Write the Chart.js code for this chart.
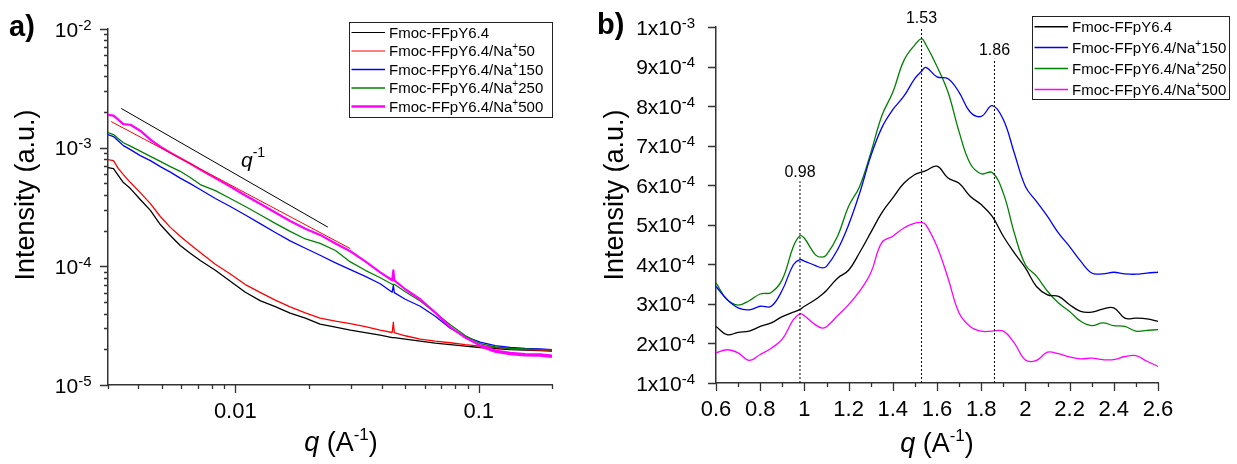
<!DOCTYPE html>
<html>
<head>
<meta charset="utf-8">
<title>Fmoc-FFpY6.4 scattering profiles</title>
<script src="https://cdn.jsdelivr.net/npm/chart.js@4.4.1/dist/chart.umd.min.js"></script>
<style>
  body { margin: 0; background: #fff; }
  #wrap { position: relative; width: 1237px; height: 464px; overflow: hidden; }
  #chartA { position: absolute; left: 0; top: 0; }
  #chartB { position: absolute; left: 580px; top: 0; }
</style>
</head>
<body>
<div id="wrap">
  <canvas id="chartA" width="580" height="464"></canvas>
  <canvas id="chartB" width="657" height="464"></canvas>
</div>
<script>
// ---------- panel a) : log-log SAXS curves ----------
const qA = [0.0030, 0.00316, 0.00331, 0.00347, 0.00371, 0.00407, 0.00448, 0.00492, 0.00541, 0.00594,
            0.00653, 0.00718, 0.00828, 0.00954, 0.0110, 0.0127, 0.0146, 0.0168, 0.0194, 0.0223,
            0.0258, 0.0297, 0.0342, 0.0394, 0.0441, 0.0446, 0.0450, 0.0499, 0.0575, 0.0663,
            0.0764, 0.0880, 0.1014, 0.1169, 0.1347, 0.1552, 0.1789, 0.200];
const aBlack = [6.79e-4, 6.66e-4, 5.82e-4, 5.08e-4, 4.52e-4, 3.66e-4, 2.96e-4, 2.25e-4, 1.82e-4, 1.50e-4,
                1.29e-4, 1.12e-4, 9.26e-5, 7.48e-5, 6.05e-5, 5.11e-5, 4.57e-5, 4.03e-5, 3.66e-5, 3.26e-5,
                3.07e-5, 2.90e-5, 2.76e-5, 2.63e-5, 2.51e-5, 2.51e-5, 2.51e-5, 2.44e-5, 2.34e-5, 2.25e-5,
                2.19e-5, 2.13e-5, 2.07e-5, 2.03e-5, 1.99e-5, 1.97e-5, 1.95e-5, 1.93e-5];
const aRed = [7.93e-4, 7.78e-4, 6.66e-4, 5.93e-4, 5.08e-4, 4.18e-4, 3.38e-4, 2.63e-4, 2.13e-4, 1.79e-4,
              1.53e-4, 1.31e-4, 1.04e-4, 8.62e-5, 7.02e-5, 6.01e-5, 5.19e-5, 4.55e-5, 4.05e-5, 3.66e-5,
              3.45e-5, 3.29e-5, 3.10e-5, 2.90e-5, 2.77e-5, 3.38e-5, 2.76e-5, 2.60e-5, 2.44e-5, 2.34e-5,
              2.27e-5, 2.19e-5, 2.13e-5, 2.07e-5, 2.03e-5, 1.99e-5, 1.97e-5, 1.95e-5];
const aBlue = [1.29e-3, 1.24e-3, 1.14e-3, 1.04e-3, 9.62e-4, 8.57e-4, 7.78e-4, 6.92e-4, 6.22e-4, 5.54e-4,
               4.98e-4, 4.44e-4, 3.73e-4, 3.19e-4, 2.71e-4, 2.28e-4, 1.93e-4, 1.64e-4, 1.42e-4, 1.24e-4,
               1.07e-4, 9.38e-5, 8.24e-5, 7.13e-5, 6.05e-5, 6.92e-5, 6.00e-5, 5.28e-5, 4.61e-5, 3.80e-5,
               3.01e-5, 2.56e-5, 2.30e-5, 2.15e-5, 2.07e-5, 2.03e-5, 2.01e-5, 1.99e-5];
const aGreen = [1.34e-3, 1.29e-3, 1.19e-3, 1.10e-3, 1.03e-3, 9.35e-4, 8.45e-4, 7.67e-4, 6.92e-4, 6.32e-4,
                5.60e-4, 4.89e-4, 4.35e-4, 3.73e-4, 3.19e-4, 2.71e-4, 2.30e-4, 1.97e-4, 1.70e-4, 1.56e-4,
                1.36e-4, 1.09e-4, 9.26e-5, 8.01e-5, 7.06e-5, 7.06e-5, 7.06e-5, 6.11e-5, 5.11e-5, 4.07e-5,
                3.22e-5, 2.61e-5, 2.23e-5, 2.09e-5, 2.03e-5, 2.01e-5, 1.99e-5, 1.98e-5];
const aMagenta = [1.89e-3, 1.86e-3, 1.72e-3, 1.58e-3, 1.56e-3, 1.39e-3, 1.17e-3, 1.02e-3, 9.08e-4, 8.16e-4,
                  7.34e-4, 6.53e-4, 5.54e-4, 4.70e-4, 3.95e-4, 3.35e-4, 2.84e-4, 2.41e-4, 2.07e-4, 1.84e-4,
                  1.56e-4, 1.34e-4, 1.10e-4, 8.90e-5, 7.63e-5, 9.26e-5, 7.60e-5, 6.41e-5, 5.28e-5, 4.07e-5,
                  3.07e-5, 2.51e-5, 2.15e-5, 1.93e-5, 1.84e-5, 1.80e-5, 1.79e-5, 1.75e-5];
// thin red straight line along the Na+500 curve, and the q^-1 guide
const qFit = [0.00309, 0.0297];
const iFit = [1.66e-3, 1.41e-4];
const qGuide = [0.0034, 0.0240];
const iGuide = [2.14e-3, 2.14e-4];

const ticksAx = [0.003, 0.004, 0.005, 0.006, 0.007, 0.008, 0.009, 0.01, 0.02, 0.03, 0.04, 0.05,
                 0.06, 0.07, 0.08, 0.09, 0.1, 0.2];
const ticksAy = [1e-5, 2e-5, 3e-5, 4e-5, 5e-5, 6e-5, 7e-5, 8e-5, 9e-5, 1e-4, 2e-4, 3e-4, 4e-4, 5e-4,
                 6e-4, 7e-4, 8e-4, 9e-4, 1e-3, 2e-3, 3e-3, 4e-3, 5e-3, 6e-3, 7e-3, 8e-3, 9e-3, 1e-2];
const namesA = ['Fmoc-FFpY6.4', 'Fmoc-FFpY6.4/Na⁺50', 'Fmoc-FFpY6.4/Na⁺150',
                'Fmoc-FFpY6.4/Na⁺250', 'Fmoc-FFpY6.4/Na⁺500'];
const colorsA = ['#000000', '#ff0000', '#0000ff', '#008000', '#ff00ff'];

// ---------- panel b) : linear WAXS curves (intensity in units of 1e-4) ----------
const qB = [0.6, 0.65, 0.7, 0.75, 0.8, 0.85, 0.9, 0.95, 0.98, 1.0, 1.05, 1.08, 1.1, 1.15, 1.2,
            1.25, 1.3, 1.35, 1.4, 1.45, 1.5, 1.53, 1.55, 1.6, 1.65, 1.7, 1.75, 1.8, 1.85, 1.9,
            1.95, 2.0, 2.05, 2.1, 2.15, 2.2, 2.25, 2.3, 2.35, 2.4, 2.45, 2.5, 2.55, 2.6];
const bBlack = [2.43, 2.22, 2.28, 2.31, 2.43, 2.52, 2.68, 2.79, 2.86, 2.94, 3.11, 3.24, 3.34, 3.65, 3.85,
                4.30, 4.80, 5.30, 5.68, 6.05, 6.27, 6.33, 6.37, 6.48, 6.18, 6.05, 5.72, 5.51, 5.21, 4.71,
                4.29, 3.91, 3.44, 3.23, 3.19, 2.98, 2.81, 2.79, 2.87, 2.90, 2.64, 2.64, 2.62, 2.56];
const bBlue = [3.44, 3.11, 2.90, 2.85, 2.94, 2.94, 3.35, 3.99, 4.12, 4.08, 3.97, 3.91, 3.95, 4.37, 5.00,
               5.80, 6.73, 7.45, 7.91, 8.25, 8.70, 8.88, 8.98, 8.74, 8.69, 8.35, 7.85, 7.74, 8.01, 7.66,
               6.81, 5.97, 5.59, 5.21, 4.79, 4.45, 4.08, 3.78, 3.76, 3.80, 3.76, 3.75, 3.78, 3.80];
const bGreen = [3.53, 3.11, 2.97, 3.08, 3.25, 3.29, 3.62, 4.45, 4.72, 4.66, 4.24, 4.18, 4.24, 4.71, 5.47,
                5.97, 6.81, 7.75, 8.35, 9.15, 9.55, 9.70, 9.55, 9.00, 8.35, 7.35, 6.55, 6.29, 6.32, 5.80,
                4.79, 3.99, 3.70, 3.32, 3.02, 2.81, 2.56, 2.45, 2.52, 2.45, 2.43, 2.31, 2.33, 2.35];
const bMagenta = [1.76, 1.84, 1.76, 1.57, 1.72, 1.88, 2.11, 2.60, 2.75, 2.70, 2.47, 2.39, 2.42, 2.70, 2.98,
                  3.32, 3.78, 4.55, 4.71, 4.92, 5.04, 5.06, 5.00, 4.45, 3.65, 2.77, 2.43, 2.31, 2.31, 2.31,
                  2.01, 1.58, 1.57, 1.78, 1.74, 1.66, 1.61, 1.63, 1.59, 1.59, 1.67, 1.69, 1.55, 1.42];
const peakQ = [0.98, 1.53, 1.86];
const peakTop = [6.1, 10, 9.2];

const ticksBx = [0.6, 0.7, 0.8, 0.9, 1.0, 1.1, 1.2, 1.3, 1.4, 1.5, 1.6, 1.7, 1.8, 1.9, 2.0,
                 2.1, 2.2, 2.3, 2.4, 2.5, 2.6];
const ticksBy = [1, 2, 3, 4, 5, 6, 7, 8, 9, 10];
const namesB = ['Fmoc-FFpY6.4', 'Fmoc-FFpY6.4/Na⁺150', 'Fmoc-FFpY6.4/Na⁺250', 'Fmoc-FFpY6.4/Na⁺500'];
const colorsB = ['#000000', '#0000ff', '#008000', '#ff00ff'];

// ---------- helpers ----------
const FONT = '"Liberation Sans", Arial, Helvetica, sans-serif';
const AXIS = '#333333';
Chart.defaults.font.family = FONT;
Chart.defaults.color = '#000';

function isDecade(v) { const l = Math.log10(v); return Math.abs(l - Math.round(l)) < 1e-6; }
function xy(xs, ys) { return xs.map((x, i) => ({ x: x, y: ys[i] })); }

// draw a run of text pieces: [text, size, style, raise]
function rich(ctx, x, y, parts, align) {
  let w = 0;
  parts.forEach(p => { ctx.font = (p[2] || '') + ' ' + p[1] + 'px ' + FONT; w += ctx.measureText(p[0]).width; });
  let cx = align === 'center' ? x - w / 2 : (align === 'right' ? x - w : x);
  ctx.textAlign = 'left';
  ctx.textBaseline = 'alphabetic';
  parts.forEach(p => {
    ctx.font = (p[2] || '') + ' ' + p[1] + 'px ' + FONT;
    ctx.fillText(p[0], cx, y - (p[3] || 0));
    cx += ctx.measureText(p[0]).width;
  });
}

// legend label "…/Na⁺150" drawn with a small raised plus
function legendParts(name, size) {
  const bits = name.split('⁺');
  if (bits.length === 1) return [[name, size]];
  return [[bits[0], size], ['+', Math.round(size * 0.68), '', size * 0.4], [bits[1], size]];
}

function drawLegend(ctx, box, names, colors, widths, rowH, size) {
  ctx.save();
  ctx.fillStyle = '#fff';
  ctx.fillRect(box.x, box.y, box.w, box.h);
  ctx.strokeStyle = '#222';
  ctx.lineWidth = 1;
  ctx.strokeRect(box.x + 0.5, box.y + 0.5, box.w, box.h);
  names.forEach((n, i) => {
    const cy = box.y + box.first + i * rowH;
    ctx.strokeStyle = colors[i];
    ctx.lineWidth = widths[i];
    ctx.beginPath();
    ctx.moveTo(box.x + 2.5, cy);
    ctx.lineTo(box.x + box.line, cy);
    ctx.stroke();
    ctx.fillStyle = '#000';
    rich(ctx, box.x + box.line + 4, cy + size * 0.36, legendParts(n, size), 'left');
  });
  ctx.restore();
}

function drawTickMarks(chart, majorX, majorY) {
  const ctx = chart.ctx, xs = chart.scales.x, ys = chart.scales.y;
  ctx.save();
  ctx.strokeStyle = AXIS;
  ctx.lineWidth = 1.3;
  ctx.beginPath();
  xs.ticks.forEach(t => {
    const px = Math.round(xs.getPixelForValue(t.value)) + 0.5;
    ctx.moveTo(px, xs.top);
    ctx.lineTo(px, xs.top + (majorX(t.value) ? 8 : 4));
  });
  ys.ticks.forEach(t => {
    const py = Math.round(ys.getPixelForValue(t.value)) + 0.5;
    ctx.moveTo(ys.right, py);
    ctx.lineTo(ys.right - (majorY(t.value) ? 8 : 4), py);
  });
  ctx.stroke();
  ctx.restore();
}

// y tick labels with a real raised exponent, e.g. 10^-3 or 4x10^-4
function drawYLabels(chart, labelFn, gap) {
  const ctx = chart.ctx, ys = chart.scales.y;
  ctx.save();
  ctx.fillStyle = '#000';
  ys.ticks.forEach(t => {
    const lab = labelFn(t.value);
    if (!lab) return;
    rich(ctx, ys.right - gap, ys.getPixelForValue(t.value) + 7.5,
         [[lab[0], 21], [lab[1], 15, '', 7]], 'right');
  });
  ctx.restore();
}

function yTitle(ctx, x, y, size) {
  ctx.save();
  ctx.translate(x, y);
  ctx.rotate(-Math.PI / 2);
  ctx.fillStyle = '#000';
  ctx.font = size + 'px ' + FONT;
  ctx.textAlign = 'center';
  ctx.textBaseline = 'alphabetic';
  ctx.fillText('Intensity (a.u.)', 0, 0);
  ctx.restore();
}

function qTitle(ctx, x, y, size) {
  ctx.fillStyle = '#000';
  rich(ctx, x, y, [['q', size, 'italic'], [' (A', size], ['-1', Math.round(size * 0.62), '', size * 0.42], [')', size]], 'center');
}

// ---------- panel a ----------
const decorA = {
  id: 'decorA',
  afterDraw(chart) {
    const ctx = chart.ctx, xs = chart.scales.x, ys = chart.scales.y;
    drawTickMarks(chart, isDecade, isDecade);
    drawYLabels(chart, v => isDecade(v) ? ['10', String(Math.round(Math.log10(v)))] : null, 16.5);
    ctx.save();
    ctx.fillStyle = '#000';
    rich(ctx, xs.getPixelForValue(0.01055), ys.getPixelForValue(6.9e-4),
         [['q', 21, 'italic'], ['-1', 14, '', 10]], 'left');
    rich(ctx, 9, 36, [['a)', 29, 'bold']], 'left');
    yTitle(ctx, 34, 195, 27);
    qTitle(ctx, 341, 451, 27);
    drawLegend(ctx, { x: 349, y: 22, w: 203, h: 95, first: 10.5, line: 36 },
               namesA, colorsA, [1, 1, 1.5, 1.5, 2.5], 18.5, 15);
    ctx.restore();
  }
};

const lineA = (data, color, width, order) => ({
  data: data, borderColor: color, borderWidth: width, borderJoinStyle: 'round',
  pointRadius: 0, fill: false, tension: 0, order: order
});

const magentaA = lineA(xy(qA, aMagenta), colorsA[4], 2.2, 2);
// the Na+500 trace is much noisier past 0.09, so it reads as a thicker band there
magentaA.segment = { borderWidth: c => c.p0.parsed.x > 0.09 ? 3.5 : 2.2 };

new Chart(document.getElementById('chartA'), {
  type: 'line',
  data: {
    datasets: [
      lineA(xy(qGuide, iGuide), '#000000', 1, 0),
      lineA(xy(qFit, iFit), '#ff0000', 1, 1),
      magentaA,
      lineA(xy(qA, aGreen), colorsA[3], 1.3, 3),
      lineA(xy(qA, aBlue), colorsA[2], 1.3, 4),
      lineA(xy(qA, aRed), colorsA[1], 1.3, 5),
      lineA(xy(qA, aBlack), colorsA[0], 1.3, 6)
    ]
  },
  options: {
    responsive: false,
    animation: false,
    layout: { padding: { left: 0, right: 28, top: 29, bottom: 0 } },
    plugins: { legend: { display: false }, tooltip: { enabled: false } },
    scales: {
      x: {
        type: 'logarithmic', min: 0.003, max: 0.2,
        afterBuildTicks: s => { s.ticks = ticksAx.map(v => ({ value: v })); },
        afterFit: s => { s.height = 79; },
        grid: { display: false },
        border: { color: AXIS, width: 1.5 },
        ticks: {
          autoSkip: false, maxRotation: 0, padding: 6, font: { size: 22 },
          callback: v => isDecade(v) ? String(v) : ''
        }
      },
      y: {
        type: 'logarithmic', min: 1e-5, max: 1e-2,
        afterBuildTicks: s => { s.ticks = ticksAy.map(v => ({ value: v })); },
        afterFit: s => { s.width = 108; },
        grid: { display: false },
        border: { color: AXIS, width: 1.5 },
        ticks: { display: false, autoSkip: false }
      }
    }
  },
  plugins: [decorA]
});

// ---------- panel b ----------
const decorB = {
  id: 'decorB',
  afterDraw(chart) {
    const ctx = chart.ctx, xs = chart.scales.x, ys = chart.scales.y;
    drawTickMarks(chart, v => Math.round(v * 10) % 2 === 0, () => true);
    drawYLabels(chart, v => v === 10 ? ['1x10', '-3'] : [v + 'x10', '-4'], 21);
    ctx.save();
    ctx.fillStyle = '#000';
    peakQ.forEach((q, i) => {
      rich(ctx, xs.getPixelForValue(q), ys.getPixelForValue(peakTop[i]) - 4, [[q.toFixed(2), 16]], 'center');
    });
    rich(ctx, 17, 34, [['b)', 29, 'bold']], 'left');
    yTitle(ctx, 43, 195, 27);
    qTitle(ctx, 357, 452, 27);
    drawLegend(ctx, { x: 452, y: 16, w: 197, h: 83, first: 10.7, line: 36 },
               namesB, colorsB, [1.5, 1.5, 1.5, 1.5], 20.9, 15);
    ctx.restore();
  }
};

const lineB = (data, color) => ({
  data: data, borderColor: color, borderWidth: 1.3, pointRadius: 0, fill: false, tension: 0.4
});
const dashB = (i) => ({
  data: [{ x: peakQ[i], y: 1 }, { x: peakQ[i], y: peakTop[i] }],
  borderColor: '#000', borderWidth: 1, borderDash: [2, 2], pointRadius: 0, fill: false, tension: 0
});

new Chart(document.getElementById('chartB'), {
  type: 'line',
  data: {
    datasets: [
      dashB(0), dashB(1), dashB(2),
      lineB(xy(qB, bBlack), colorsB[0]),
      lineB(xy(qB, bBlue), colorsB[1]),
      lineB(xy(qB, bGreen), colorsB[2]),
      lineB(xy(qB, bMagenta), colorsB[3])
    ]
  },
  options: {
    responsive: false,
    animation: false,
    layout: { padding: { left: 0, right: 79, top: 27, bottom: 0 } },
    plugins: { legend: { display: false }, tooltip: { enabled: false } },
    scales: {
      x: {
        type: 'linear', min: 0.6, max: 2.6,
        afterBuildTicks: s => { s.ticks = ticksBx.map(v => ({ value: v })); },
        afterFit: s => { s.height = 81; },
        grid: { display: false },
        border: { color: AXIS, width: 1.5 },
        ticks: {
          autoSkip: false, maxRotation: 0, padding: 6, font: { size: 22 },
          callback: v => Math.round(v * 10) % 2 === 0 ? String(Number(v.toFixed(1))) : ''
        }
      },
      y: {
        type: 'linear', min: 1, max: 10,
        afterBuildTicks: s => { s.ticks = ticksBy.map(v => ({ value: v })); },
        afterFit: s => { s.width = 136; },
        grid: { display: false },
        border: { color: AXIS, width: 1.5 },
        ticks: { display: false, autoSkip: false }
      }
    }
  },
  plugins: [decorB]
});
</script>
</body>
</html>
